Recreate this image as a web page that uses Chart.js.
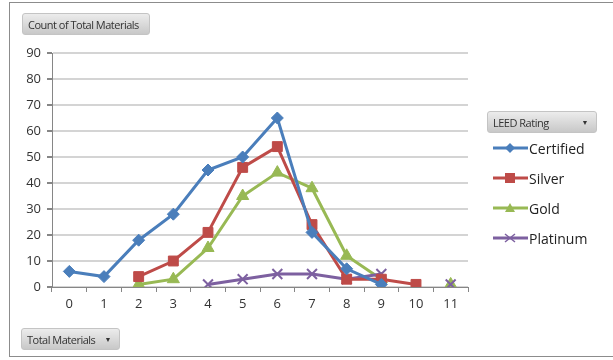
<!DOCTYPE html>
<html>
<head>
<meta charset="utf-8">
<script src="https://cdn.jsdelivr.net/npm/chart.js@4"></script>
<style>
  html, body { margin: 0; padding: 0; background: #fff; }
  #wrap { position: relative; width: 613px; height: 360px; overflow: hidden; font-family: "Open Sans", sans-serif; }
  #frame { position: absolute; left: 9px; top: 2px; width: 620px; height: 355px; border: 1px solid #8c8c8c; box-sizing: border-box; }
  canvas { position: absolute; left: 0; top: 0; }
  .btn {
    position: absolute; height: 22px; line-height: 21px; font-size: 11px; color: #333;
    padding: 0 5px; border-radius: 3px; box-sizing: border-box; white-space: nowrap;
    background: linear-gradient(#ececec, #c8c8c8); border: 1px solid #c4c4c4;
    letter-spacing: -0.5px;
  }
  .btn .arr { position: absolute; right: 8px; top: 0; font-size: 7px; }
  #legend { position: absolute; left: 493px; top: 133px; }
  .item { height: 30px; display: flex; align-items: center; font-size: 14px; color: #222; }
  .item svg { margin-right: 1px; }
</style>
</head>
<body>
<div id="wrap">
  <div id="frame"></div>
  <canvas id="chart" width="613" height="360"></canvas>
  <div class="btn" style="left:22px; top:13px; width:128px;">Count of Total Materials</div>
  <div class="btn" style="left:487px; top:111px; width:110px;">LEED Rating<span class="arr">&#9660;</span></div>
  <div class="btn" style="left:21px; top:328px; width:99px;">Total Materials<span class="arr">&#9660;</span></div>
  <div id="legend"></div>
</div>
<script>
// 데이터
const categories = ['0', '1', '2', '3', '4', '5', '6', '7', '8', '9', '10', '11'];
const certified = [6, 4, 18, 28, 45, 50, 65, 21, 7, 1, null, null];
const silver = [null, null, 4, 10, 21, 46, 54, 24, 3, 3, 1, null];
const gold = [null, null, 1, 3, 15, 35, 44, 38, 12, 3, null, 1];
const platinum = [null, null, null, null, 1, 3, 5, 5, 3, 5, null, 1];
const seriesNames = ['Certified', 'Silver', 'Gold', 'Platinum'];

const colors = ['#4a7ebb', '#be4b48', '#98b954', '#7d60a0'];
const markers = ['rectRot', 'rect', 'triangle', 'crossRot'];
const radii = [6, 7, 7, 7];

function makeSet(i, data) {
  return {
    label: seriesNames[i],
    data: data,
    borderColor: colors[i],
    backgroundColor: colors[i],
    borderWidth: 3,
    pointStyle: markers[i],
    pointRadius: radii[i],
    pointBorderWidth: i === 3 ? 2 : 1,
    pointBorderColor: colors[i],
    pointBackgroundColor: colors[i],
    spanGaps: false,
    tension: 0,
    order: i === 2 ? 1 : 0   // Gold 을 맨 아래에 그림
  };
}

const ctx = document.getElementById('chart').getContext('2d');
const chart = new Chart(ctx, {
  type: 'line',
  data: {
    labels: categories,
    datasets: [
      makeSet(0, certified),
      makeSet(1, silver),
      makeSet(2, gold),
      makeSet(3, platinum)
    ]
  },
  options: {
    responsive: false,
    animation: false,
    layout: { padding: { left: 22, right: 145, top: 53, bottom: 43 } },
    plugins: { legend: { display: false }, tooltip: { enabled: false } },
    scales: {
      x: {
        offset: true,
        grid: { offset: true, drawOnChartArea: false, color: '#868686', tickLength: 5 },
        border: { color: '#868686' },
        ticks: { color: '#333', font: { family: 'Open Sans', size: 13 }, padding: 4, maxRotation: 0 },
        afterFit: (s) => { s.height = 30; }
      },
      y: {
        min: 0,
        max: 90,
        ticks: { stepSize: 10, color: '#333', font: { family: 'Open Sans', size: 13 }, padding: 6 },
        grid: { color: '#d4d4d4', lineWidth: 2, tickLength: 5, tickColor: '#868686' },
        border: { color: '#868686' },
        afterFit: (s) => { s.width = 30; }
      }
    }
  }
});

// 범례 (HTML)
const legend = document.getElementById('legend');
const shapes = [
  c => `<polygon points="17,2 22,7 17,12 12,7" fill="${c}"/>`,
  c => `<rect x="12" y="2" width="10" height="10" fill="${c}"/>`,
  c => `<polygon points="17,2 22,11 12,11" fill="${c}"/>`,
  c => `<path d="M12,3 L22,11 M22,3 L12,11" stroke="${c}" stroke-width="1.5"/>`
];
seriesNames.forEach((name, i) => {
  const div = document.createElement('div');
  div.className = 'item';
  div.innerHTML = `<svg width="35" height="14"><line x1="0" y1="7" x2="35" y2="7" stroke="${colors[i]}" stroke-width="3"/>${shapes[i](colors[i])}</svg>${name}`;
  legend.appendChild(div);
});
</script>
</body>
</html>
